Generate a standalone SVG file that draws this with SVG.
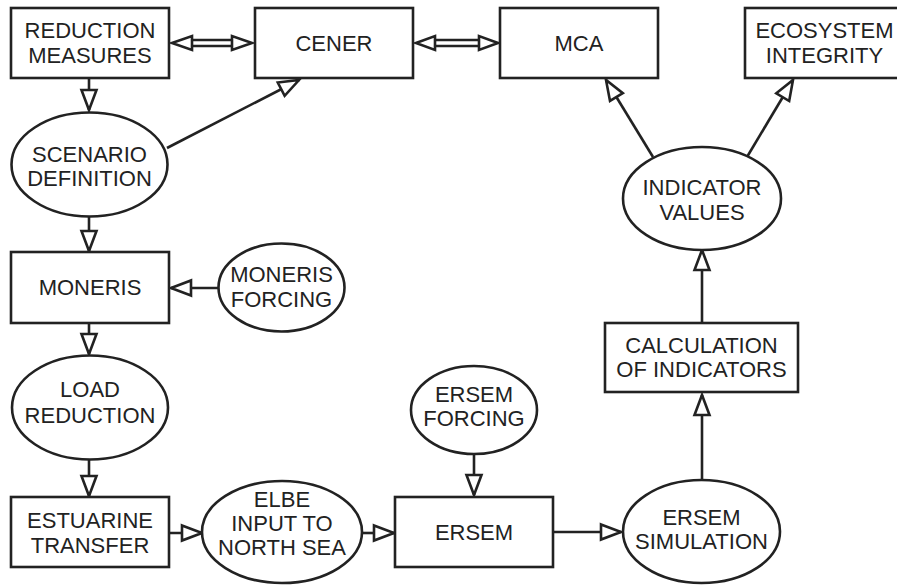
<svg xmlns="http://www.w3.org/2000/svg" width="897" height="585" viewBox="0 0 897 585">
<defs>
<style>
.n{fill:#fff;stroke:#222;stroke-width:2.6}
.t{font-family:"Liberation Sans",Arial,sans-serif;font-size:22px;fill:#222;text-anchor:middle}
.c{fill:none;stroke:#222;stroke-width:2.6}
.h{fill:#fff;stroke:#222;stroke-width:2.6;stroke-linejoin:miter}
</style>
<marker id="a" markerUnits="userSpaceOnUse" markerWidth="26" markerHeight="20" refX="21" refY="8" orient="auto" overflow="visible">
<path d="M1,0.5 L21,8 L1,15.5 Z" fill="#fff" stroke="#222" stroke-width="2.6"/>
</marker>
</defs>
<rect width="897" height="585" fill="#fff"/>
<g id="connectors">
<path class="c" d="M89,78 V110" marker-end="url(#a)"/>
<path class="c" d="M167,148 L299,80" marker-end="url(#a)"/>
<path class="c" d="M89,217 V251" marker-end="url(#a)"/>
<path class="c" d="M218,288 H171" marker-end="url(#a)"/>
<path class="c" d="M89,323 V354" marker-end="url(#a)"/>
<path class="c" d="M89,460 V496" marker-end="url(#a)"/>
<path class="c" d="M169,533 H202" marker-end="url(#a)"/>
<path class="c" d="M362,533 H394" marker-end="url(#a)"/>
<path class="c" d="M474,454 V495" marker-end="url(#a)"/>
<path class="c" d="M553,532 H621" marker-end="url(#a)"/>
<path class="c" d="M702,480 V395" marker-end="url(#a)"/>
<path class="c" d="M702,323 V250" marker-end="url(#a)"/>
<path class="c" d="M653,157 L606,80" marker-end="url(#a)"/>
<path class="c" d="M747,157 L793,80" marker-end="url(#a)"/>
<g id="double1">
<path class="c" d="M190,40 H235 M190,46 H235"/>
<path class="h" d="M172,43 L192,36 L192,50 Z"/>
<path class="h" d="M252,43 L232,36 L232,50 Z"/>
</g>
<g id="double2">
<path class="c" d="M433,40 H482 M433,46 H482"/>
<path class="h" d="M416,43 L435,36 L435,50 Z"/>
<path class="h" d="M498,43 L479,36 L479,50 Z"/>
</g>
</g>
<g id="reduction-measures"><rect class="n" x="11" y="8" width="158" height="70"/><text class="t" x="90" y="38">REDUCTION</text><text class="t" x="90" y="63">MEASURES</text></g>
<g id="cener"><rect class="n" x="255" y="8" width="158" height="70"/><text class="t" x="334" y="51">CENER</text></g>
<g id="mca"><rect class="n" x="500" y="8" width="158" height="70"/><text class="t" x="579" y="51">MCA</text></g>
<g id="ecosystem-integrity"><rect class="n" x="745" y="8" width="160" height="70"/><text class="t" x="824.5" y="38">ECOSYSTEM</text><text class="t" x="824.5" y="63">INTEGRITY</text></g>
<g id="scenario-definition"><ellipse class="n" cx="89.5" cy="164.5" rx="78" ry="52"/><text class="t" x="89.5" y="162">SCENARIO</text><text class="t" x="89.5" y="186">DEFINITION</text></g>
<g id="moneris"><rect class="n" x="11" y="252" width="158" height="71"/><text class="t" x="90" y="295">MONERIS</text></g>
<g id="moneris-forcing"><ellipse class="n" cx="281.5" cy="287.5" rx="63" ry="44"/><text class="t" x="281.5" y="282">MONERIS</text><text class="t" x="281.5" y="307">FORCING</text></g>
<g id="load-reduction"><ellipse class="n" cx="90" cy="407.5" rx="78" ry="52"/><text class="t" x="90" y="397">LOAD</text><text class="t" x="90" y="423">REDUCTION</text></g>
<g id="estuarine-transfer"><rect class="n" x="11" y="497" width="158" height="70"/><text class="t" x="90" y="528">ESTUARINE</text><text class="t" x="90" y="553">TRANSFER</text></g>
<g id="elbe-input"><ellipse class="n" cx="282" cy="532" rx="80" ry="51"/><text class="t" x="282" y="507">ELBE</text><text class="t" x="282" y="531">INPUT TO</text><text class="t" x="282" y="555">NORTH SEA</text></g>
<g id="ersem-forcing"><ellipse class="n" cx="474" cy="410" rx="63" ry="44"/><text class="t" x="474" y="402">ERSEM</text><text class="t" x="474" y="426">FORCING</text></g>
<g id="ersem"><rect class="n" x="395" y="497" width="158" height="70"/><text class="t" x="474" y="540">ERSEM</text></g>
<g id="ersem-simulation"><ellipse class="n" cx="701.5" cy="531.5" rx="78.5" ry="51.5"/><text class="t" x="701.5" y="525">ERSEM</text><text class="t" x="701.5" y="549">SIMULATION</text></g>
<g id="calculation-of-indicators"><rect class="n" x="605" y="323" width="193" height="69"/><text class="t" x="701.5" y="353">CALCULATION</text><text class="t" x="701.5" y="377">OF INDICATORS</text></g>
<g id="indicator-values"><ellipse class="n" cx="702" cy="198.5" rx="79" ry="51.5"/><text class="t" x="702" y="195">INDICATOR</text><text class="t" x="702" y="220">VALUES</text></g>
</svg>
